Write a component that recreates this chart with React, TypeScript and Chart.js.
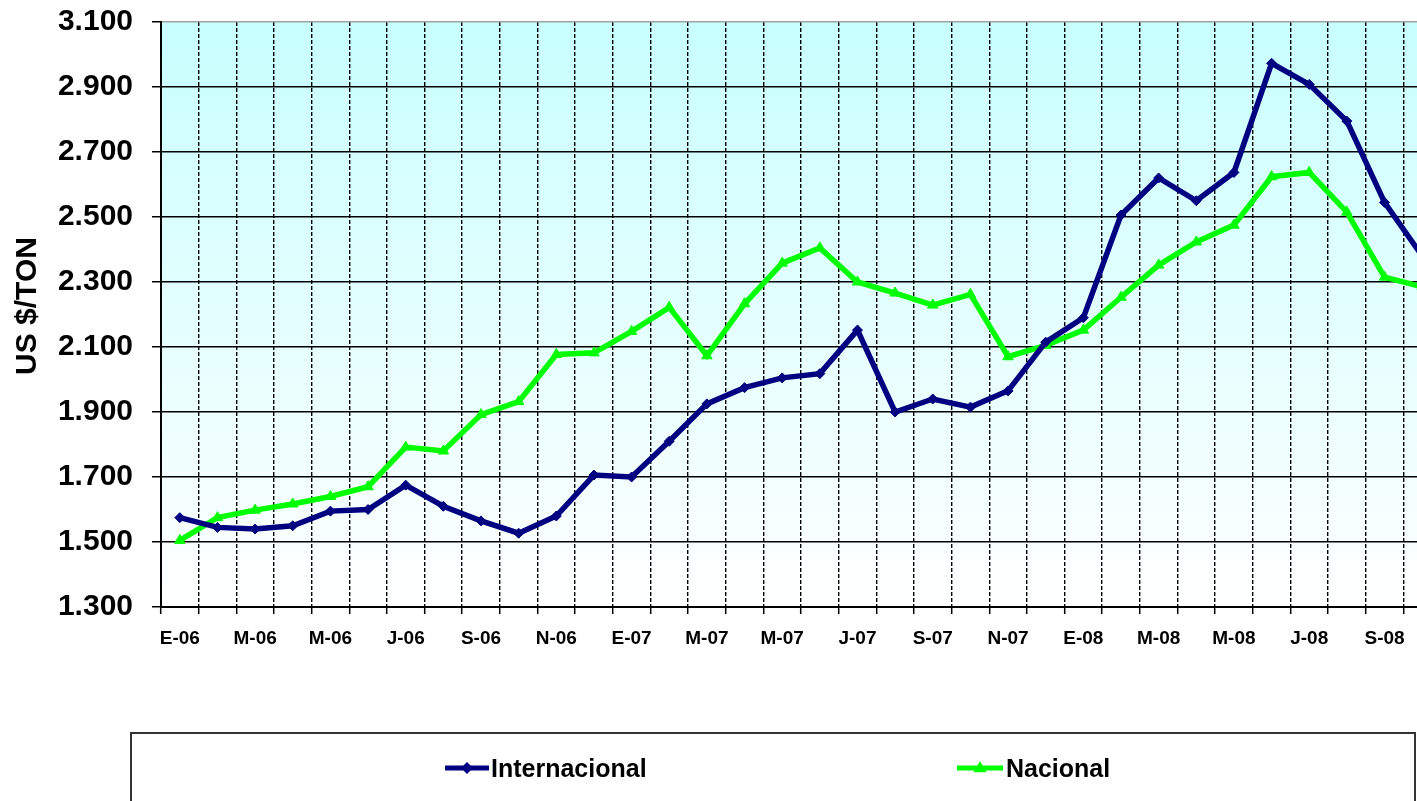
import React, { useEffect, useRef } from 'react';
import { Chart, registerables } from 'chart.js';

Chart.register(...registerables);

const categories = [
  'E-06', 'F-06', 'M-06', 'A-06', 'M-06', 'J-06', 'J-06', 'A-06', 'S-06', 'O-06', 'N-06', 'D-06',
  'E-07', 'F-07', 'M-07', 'A-07', 'M-07', 'J-07', 'J-07', 'A-07', 'S-07', 'O-07', 'N-07', 'D-07',
  'E-08', 'F-08', 'M-08', 'A-08', 'M-08', 'J-08', 'J-08', 'A-08', 'S-08', 'O-08',
];

const internacional = [
  1575, 1545, 1540, 1550, 1595, 1600, 1675, 1610, 1565, 1527, 1580, 1706,
  1700, 1810, 1925, 1975, 2005, 2018, 2152, 1900, 1940, 1915, 1965, 2115,
  2190, 2506, 2620, 2550, 2637, 2973, 2908, 2795, 2545, 2380,
];

const nacional = [
  1505, 1575, 1598, 1617, 1640, 1670, 1792, 1780, 1892, 1932, 2077, 2082,
  2148, 2222, 2073, 2233, 2358, 2405, 2300, 2266, 2229, 2262, 2070, 2105,
  2152, 2253, 2352, 2423, 2475, 2624, 2637, 2515, 2315, 2285,
];

const seriesNames = ['Internacional', 'Nacional'];
const yTitle = 'US $/TON';
const yMin = 1300;
const yMax = 3100;
const yStep = 200;

const NAVY = '#000080';
const GREEN = '#00FF00';
const FONT = '"Liberation Sans", Arial, sans-serif';

const fmtThousands = (v: number) => {
  const t = Math.floor(v / 1000);
  const r = Math.round(v % 1000);
  return `${t}.${String(r).padStart(3, '0')}`;
};

const bgPlugin = {
  id: 'plotBg',
  beforeDraw(chart: any) {
    const { ctx, chartArea } = chart;
    if (!chartArea) return;
    const g = ctx.createLinearGradient(0, chartArea.top, 0, chartArea.bottom);
    g.addColorStop(0, 'rgb(200,255,255)');
    g.addColorStop(1, 'rgb(255,255,255)');
    ctx.save();
    ctx.fillStyle = g;
    ctx.fillRect(chartArea.left, chartArea.top, chartArea.right - chartArea.left, chartArea.bottom - chartArea.top);
    ctx.restore();
  },
};

const drawDiamond = (ctx: CanvasRenderingContext2D, x: number, y: number, r: number, color: string) => {
  ctx.beginPath();
  ctx.moveTo(x, y - r);
  ctx.lineTo(x + r, y);
  ctx.lineTo(x, y + r);
  ctx.lineTo(x - r, y);
  ctx.closePath();
  ctx.fillStyle = color;
  ctx.fill();
};

const drawTriangle = (ctx: CanvasRenderingContext2D, x: number, y: number, r: number, color: string) => {
  ctx.beginPath();
  ctx.moveTo(x, y - r);
  ctx.lineTo(x + r * 0.95, y + r * 0.6);
  ctx.lineTo(x - r * 0.95, y + r * 0.6);
  ctx.closePath();
  ctx.fillStyle = color;
  ctx.fill();
};

const overlayPlugin = {
  id: 'overlay',
  afterDraw(chart: any) {
    const { ctx } = chart;
    ctx.save();
    // Y axis title
    ctx.translate(28, 306);
    ctx.rotate(-Math.PI / 2);
    ctx.font = `bold 30px ${FONT}`;
    ctx.fillStyle = '#000';
    ctx.textAlign = 'center';
    ctx.textBaseline = 'middle';
    ctx.fillText(yTitle, 0, 0);
    ctx.restore();

    // Legend box
    ctx.save();
    ctx.strokeStyle = '#333';
    ctx.lineWidth = 2;
    ctx.strokeRect(131, 733, 1415 - 131, 140);

    const items = [
      { name: seriesNames[0], color: NAVY, x0: 445, x1: 489, tx: 491, marker: 'diamond' },
      { name: seriesNames[1], color: GREEN, x0: 957, x1: 1003, tx: 1006, marker: 'triangle' },
    ];
    const ly = 768;
    items.forEach((it) => {
      ctx.strokeStyle = it.color;
      ctx.lineWidth = 5;
      ctx.beginPath();
      ctx.moveTo(it.x0, ly);
      ctx.lineTo(it.x1, ly);
      ctx.stroke();
      const mx = (it.x0 + it.x1) / 2;
      if (it.marker === 'diamond') drawDiamond(ctx, mx, ly, 6, it.color);
      else drawTriangle(ctx, mx, ly, 7, it.color);
      ctx.font = `bold 25px ${FONT}`;
      ctx.fillStyle = '#000';
      ctx.textAlign = 'left';
      ctx.textBaseline = 'alphabetic';
      ctx.fillText(it.name, it.tx, 777);
    });
    ctx.restore();
  },
};

export default function App() {
  const canvasRef = useRef<HTMLCanvasElement | null>(null);

  useEffect(() => {
    const canvas = canvasRef.current;
    if (!canvas) return;
    const chart = new Chart(canvas, {
      type: 'line',
      data: {
        labels: categories,
        datasets: [
          {
            label: seriesNames[0],
            data: internacional,
            borderColor: NAVY,
            backgroundColor: NAVY,
            borderWidth: 5.5,
            pointStyle: 'rectRot',
            pointRadius: 5,
            pointBorderWidth: 1,
            pointBorderColor: NAVY,
            pointBackgroundColor: NAVY,
            tension: 0,
            fill: false,
          },
          {
            label: seriesNames[1],
            data: nacional,
            borderColor: GREEN,
            backgroundColor: GREEN,
            borderWidth: 5.5,
            pointStyle: 'triangle',
            pointRadius: 6,
            pointBorderWidth: 1,
            pointBorderColor: GREEN,
            pointBackgroundColor: GREEN,
            tension: 0,
            fill: false,
          },
        ],
      },
      options: {
        responsive: false,
        animation: false,
        events: [],
        layout: { padding: { top: 22, left: 0, right: 19, bottom: 134 } },
        plugins: {
          legend: { display: false },
          tooltip: { enabled: false },
          title: { display: false },
        },
        scales: {
          x: {
            type: 'category',
            offset: true,
            grid: {
              offset: true,
              color: '#000',
              lineWidth: 1.4,
              drawTicks: true,
              tickLength: 7,
              tickColor: '#000',
              tickWidth: 1.5,
              tickBorderDash: [],
            },
            border: { display: true, color: '#000', width: 2, dash: [4, 2] },
            ticks: {
              autoSkip: false,
              maxRotation: 0,
              minRotation: 0,
              padding: 13,
              color: '#000',
              font: { family: FONT, size: 19, weight: 'bold' },
              callback: (_v: any, i: number) => (i % 2 === 0 ? categories[i] : ''),
            },
            afterFit: (s: any) => {
              s.height = 60;
              s.paddingLeft = 0;
              s.paddingRight = 0;
            },
          },
          y: {
            min: yMin,
            max: yMax,
            grid: {
              color: (c: any) => (c.tick && c.tick.value === yMax ? '#a0a0a0' : '#000'),
              lineWidth: 1.5,
              drawTicks: true,
              tickLength: 9,
              tickColor: '#000',
              tickWidth: 1.5,
            },
            border: { display: true, color: '#000', width: 2 },
            ticks: {
              stepSize: yStep,
              padding: 19,
              color: '#000',
              font: { family: FONT, size: 30, weight: 'bold' },
              callback: (v: any) => fmtThousands(Number(v)),
            },
            afterFit: (s: any) => {
              s.width = 161;
              s.paddingTop = 0;
              s.paddingBottom = 0;
            },
          },
        },
      },
      plugins: [bgPlugin, overlayPlugin],
    });
    return () => chart.destroy();
  }, []);

  return (
    <div
      style={{
        position: 'fixed',
        left: 0,
        top: 0,
        width: 1417,
        height: 801,
        overflow: 'hidden',
        background: '#fff',
      }}
    >
      <canvas ref={canvasRef} width={1460} height={801} style={{ display: 'block', width: 1460, height: 801 }} />
    </div>
  );
}
